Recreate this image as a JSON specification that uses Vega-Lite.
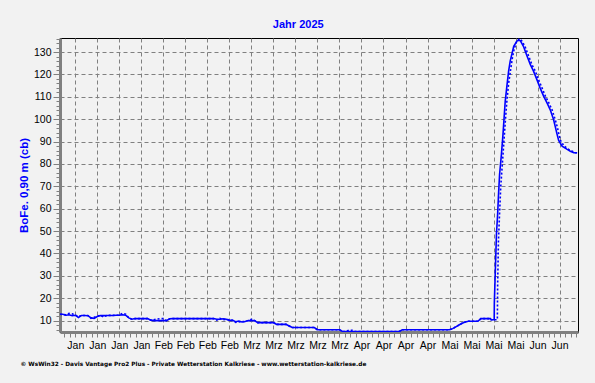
{
  "$schema": "https://vega.github.io/schema/vega-lite/v6.json",
  "width": 518,
  "height": 294,
  "autosize": "none",
  "padding": {"left": 60, "top": 38, "right": 17, "bottom": 51},
  "background": "#f2f2f2",
  "title": {
    "text": "Jahr 2025",
    "color": "#0000ff",
    "font": "Liberation Sans",
    "fontSize": 11,
    "fontWeight": "bold",
    "anchor": "middle",
    "frame": "bounds",
    "offset": 8
  },
  "datasets": {
    "solid": [
      {"t": "2024-12-31T04:00:00Z", "v": 12.8},
      {"t": "2025-01-01T00:00:00Z", "v": 12.8},
      {"t": "2025-01-02T00:00:00Z", "v": 12.4},
      {"t": "2025-01-03T00:00:00Z", "v": 12.6},
      {"t": "2025-01-04T00:00:00Z", "v": 12.2},
      {"t": "2025-01-05T00:00:00Z", "v": 12.4},
      {"t": "2025-01-06T00:00:00Z", "v": 11.4},
      {"t": "2025-01-07T00:00:00Z", "v": 12.3},
      {"t": "2025-01-08T00:00:00Z", "v": 12.3},
      {"t": "2025-01-09T00:00:00Z", "v": 12.2},
      {"t": "2025-01-10T00:00:00Z", "v": 11.2},
      {"t": "2025-01-11T00:00:00Z", "v": 11.0},
      {"t": "2025-01-12T00:00:00Z", "v": 11.8},
      {"t": "2025-01-13T00:00:00Z", "v": 12.3},
      {"t": "2025-01-14T00:00:00Z", "v": 12.2},
      {"t": "2025-01-15T00:00:00Z", "v": 12.3},
      {"t": "2025-01-17T00:00:00Z", "v": 12.3},
      {"t": "2025-01-18T00:00:00Z", "v": 12.4},
      {"t": "2025-01-19T00:00:00Z", "v": 12.4},
      {"t": "2025-01-20T00:00:00Z", "v": 12.6},
      {"t": "2025-01-21T00:00:00Z", "v": 12.4},
      {"t": "2025-01-22T00:00:00Z", "v": 11.2},
      {"t": "2025-01-23T00:00:00Z", "v": 10.6},
      {"t": "2025-01-24T00:00:00Z", "v": 10.9},
      {"t": "2025-01-28T00:00:00Z", "v": 10.9},
      {"t": "2025-01-29T00:00:00Z", "v": 10.2},
      {"t": "2025-01-30T00:00:00Z", "v": 10.0},
      {"t": "2025-02-03T00:00:00Z", "v": 10.0},
      {"t": "2025-02-04T00:00:00Z", "v": 10.8},
      {"t": "2025-02-05T00:00:00Z", "v": 10.9},
      {"t": "2025-02-18T00:00:00Z", "v": 10.9},
      {"t": "2025-02-19T00:00:00Z", "v": 10.6},
      {"t": "2025-02-20T00:00:00Z", "v": 10.6},
      {"t": "2025-02-21T00:00:00Z", "v": 10.8},
      {"t": "2025-02-22T00:00:00Z", "v": 10.6},
      {"t": "2025-02-23T00:00:00Z", "v": 10.1},
      {"t": "2025-02-24T00:00:00Z", "v": 10.1},
      {"t": "2025-02-25T00:00:00Z", "v": 9.5},
      {"t": "2025-02-26T00:00:00Z", "v": 9.8},
      {"t": "2025-02-27T00:00:00Z", "v": 9.4},
      {"t": "2025-02-28T00:00:00Z", "v": 9.6},
      {"t": "2025-03-01T00:00:00Z", "v": 10.0},
      {"t": "2025-03-03T00:00:00Z", "v": 10.0},
      {"t": "2025-03-04T00:00:00Z", "v": 9.1},
      {"t": "2025-03-09T00:00:00Z", "v": 9.1},
      {"t": "2025-03-10T00:00:00Z", "v": 8.3},
      {"t": "2025-03-13T00:00:00Z", "v": 8.3},
      {"t": "2025-03-14T00:00:00Z", "v": 7.6},
      {"t": "2025-03-15T00:00:00Z", "v": 6.9},
      {"t": "2025-03-22T00:00:00Z", "v": 6.9},
      {"t": "2025-03-23T00:00:00Z", "v": 5.9},
      {"t": "2025-03-30T00:00:00Z", "v": 5.9},
      {"t": "2025-03-31T00:00:00Z", "v": 5.15},
      {"t": "2025-04-18T00:00:00Z", "v": 5.15},
      {"t": "2025-04-19T00:00:00Z", "v": 5.9},
      {"t": "2025-05-04T00:00:00Z", "v": 5.9},
      {"t": "2025-05-05T00:00:00Z", "v": 6.4},
      {"t": "2025-05-06T00:00:00Z", "v": 7.2},
      {"t": "2025-05-07T00:00:00Z", "v": 8.0},
      {"t": "2025-05-08T00:00:00Z", "v": 8.8},
      {"t": "2025-05-09T00:00:00Z", "v": 9.4},
      {"t": "2025-05-10T00:00:00Z", "v": 9.7},
      {"t": "2025-05-13T00:00:00Z", "v": 9.7},
      {"t": "2025-05-14T00:00:00Z", "v": 10.9},
      {"t": "2025-05-17T00:00:00Z", "v": 10.9},
      {"t": "2025-05-17T06:00:00Z", "v": 10.4},
      {"t": "2025-05-18T05:00:00Z", "v": 10.4},
      {"t": "2025-05-18T06:00:00Z", "v": 18},
      {"t": "2025-05-18T14:00:00Z", "v": 33},
      {"t": "2025-05-18T22:00:00Z", "v": 48.5},
      {"t": "2025-05-19T07:00:00Z", "v": 57.4},
      {"t": "2025-05-19T14:00:00Z", "v": 66.4},
      {"t": "2025-05-19T22:00:00Z", "v": 75.3},
      {"t": "2025-05-20T12:00:00Z", "v": 84.3},
      {"t": "2025-05-21T00:00:00Z", "v": 93.2},
      {"t": "2025-05-21T10:00:00Z", "v": 102},
      {"t": "2025-05-21T17:00:00Z", "v": 108},
      {"t": "2025-05-22T07:00:00Z", "v": 115.5},
      {"t": "2025-05-22T19:00:00Z", "v": 121.5},
      {"t": "2025-05-23T07:00:00Z", "v": 126},
      {"t": "2025-05-23T22:00:00Z", "v": 129.6},
      {"t": "2025-05-24T10:00:00Z", "v": 132.6},
      {"t": "2025-05-25T10:00:00Z", "v": 134.9},
      {"t": "2025-05-26T00:00:00Z", "v": 135.3},
      {"t": "2025-05-26T12:00:00Z", "v": 135.1},
      {"t": "2025-05-27T12:00:00Z", "v": 132.6},
      {"t": "2025-05-28T14:00:00Z", "v": 128.5},
      {"t": "2025-05-29T17:00:00Z", "v": 124.4},
      {"t": "2025-05-30T17:00:00Z", "v": 121.5},
      {"t": "2025-05-31T19:00:00Z", "v": 117.7},
      {"t": "2025-06-01T19:00:00Z", "v": 114},
      {"t": "2025-06-02T22:00:00Z", "v": 110.3},
      {"t": "2025-06-04T00:00:00Z", "v": 107.3},
      {"t": "2025-06-05T00:00:00Z", "v": 104.3},
      {"t": "2025-06-06T02:00:00Z", "v": 99.9},
      {"t": "2025-06-06T14:00:00Z", "v": 96.9},
      {"t": "2025-06-07T05:00:00Z", "v": 93.2},
      {"t": "2025-06-07T17:00:00Z", "v": 90.5},
      {"t": "2025-06-08T19:00:00Z", "v": 88},
      {"t": "2025-06-10T10:00:00Z", "v": 86.5},
      {"t": "2025-06-11T10:00:00Z", "v": 85.7},
      {"t": "2025-06-12T12:00:00Z", "v": 85},
      {"t": "2025-06-13T14:00:00Z", "v": 85}
    ],
    "dotted": [
      {"t": "2024-12-31T04:00:00Z", "v": 12.8},
      {"t": "2025-01-02T00:00:00Z", "v": 12.6},
      {"t": "2025-01-03T00:00:00Z", "v": 13.2},
      {"t": "2025-01-04T00:00:00Z", "v": 13.0},
      {"t": "2025-01-05T00:00:00Z", "v": 12.4},
      {"t": "2025-01-06T00:00:00Z", "v": 11.8},
      {"t": "2025-01-07T00:00:00Z", "v": 12.3},
      {"t": "2025-01-09T00:00:00Z", "v": 12.3},
      {"t": "2025-01-10T00:00:00Z", "v": 11.0},
      {"t": "2025-01-11T00:00:00Z", "v": 11.5},
      {"t": "2025-01-12T00:00:00Z", "v": 12.0},
      {"t": "2025-01-13T00:00:00Z", "v": 12.3},
      {"t": "2025-01-14T00:00:00Z", "v": 11.6},
      {"t": "2025-01-15T00:00:00Z", "v": 12.3},
      {"t": "2025-01-19T00:00:00Z", "v": 12.4},
      {"t": "2025-01-20T00:00:00Z", "v": 13.2},
      {"t": "2025-01-21T00:00:00Z", "v": 12.9},
      {"t": "2025-01-22T00:00:00Z", "v": 11.2},
      {"t": "2025-01-23T00:00:00Z", "v": 10.6},
      {"t": "2025-01-24T00:00:00Z", "v": 10.9},
      {"t": "2025-01-28T00:00:00Z", "v": 10.9},
      {"t": "2025-01-29T00:00:00Z", "v": 10.2},
      {"t": "2025-02-01T00:00:00Z", "v": 10.9},
      {"t": "2025-02-02T00:00:00Z", "v": 10.9},
      {"t": "2025-02-03T00:00:00Z", "v": 10.0},
      {"t": "2025-02-04T00:00:00Z", "v": 10.8},
      {"t": "2025-02-05T00:00:00Z", "v": 10.9},
      {"t": "2025-02-18T00:00:00Z", "v": 10.9},
      {"t": "2025-02-19T00:00:00Z", "v": 10.2},
      {"t": "2025-02-20T00:00:00Z", "v": 11.0},
      {"t": "2025-02-21T00:00:00Z", "v": 10.4},
      {"t": "2025-02-22T00:00:00Z", "v": 10.6},
      {"t": "2025-02-24T00:00:00Z", "v": 10.1},
      {"t": "2025-02-25T00:00:00Z", "v": 9.2},
      {"t": "2025-02-26T00:00:00Z", "v": 9.4},
      {"t": "2025-02-28T00:00:00Z", "v": 9.6},
      {"t": "2025-03-01T00:00:00Z", "v": 10.0},
      {"t": "2025-03-02T00:00:00Z", "v": 10.6},
      {"t": "2025-03-03T00:00:00Z", "v": 10.0},
      {"t": "2025-03-04T00:00:00Z", "v": 9.1},
      {"t": "2025-03-09T00:00:00Z", "v": 9.1},
      {"t": "2025-03-10T00:00:00Z", "v": 8.3},
      {"t": "2025-03-13T00:00:00Z", "v": 8.3},
      {"t": "2025-03-14T00:00:00Z", "v": 7.6},
      {"t": "2025-03-15T00:00:00Z", "v": 6.9},
      {"t": "2025-03-22T00:00:00Z", "v": 6.9},
      {"t": "2025-03-23T00:00:00Z", "v": 5.9},
      {"t": "2025-03-30T00:00:00Z", "v": 5.9},
      {"t": "2025-03-31T00:00:00Z", "v": 5.15},
      {"t": "2025-04-01T00:00:00Z", "v": 5.15},
      {"t": "2025-04-02T00:00:00Z", "v": 5.7},
      {"t": "2025-04-03T00:00:00Z", "v": 5.7},
      {"t": "2025-04-04T00:00:00Z", "v": 5.15},
      {"t": "2025-04-18T00:00:00Z", "v": 5.15},
      {"t": "2025-04-19T00:00:00Z", "v": 5.9},
      {"t": "2025-05-04T00:00:00Z", "v": 5.9},
      {"t": "2025-05-05T00:00:00Z", "v": 6.4},
      {"t": "2025-05-06T00:00:00Z", "v": 7.2},
      {"t": "2025-05-07T00:00:00Z", "v": 8.0},
      {"t": "2025-05-08T00:00:00Z", "v": 8.8},
      {"t": "2025-05-09T00:00:00Z", "v": 9.4},
      {"t": "2025-05-10T00:00:00Z", "v": 9.7},
      {"t": "2025-05-13T00:00:00Z", "v": 9.7},
      {"t": "2025-05-14T00:00:00Z", "v": 10.9},
      {"t": "2025-05-17T00:00:00Z", "v": 10.9},
      {"t": "2025-05-17T06:00:00Z", "v": 10.4},
      {"t": "2025-05-19T05:00:00Z", "v": 10.4},
      {"t": "2025-05-19T07:00:00Z", "v": 25},
      {"t": "2025-05-19T13:00:00Z", "v": 45},
      {"t": "2025-05-19T22:00:00Z", "v": 58},
      {"t": "2025-05-20T07:00:00Z", "v": 70},
      {"t": "2025-05-20T19:00:00Z", "v": 80},
      {"t": "2025-05-21T07:00:00Z", "v": 90},
      {"t": "2025-05-21T19:00:00Z", "v": 100},
      {"t": "2025-05-22T07:00:00Z", "v": 109},
      {"t": "2025-05-22T19:00:00Z", "v": 116},
      {"t": "2025-05-23T10:00:00Z", "v": 122},
      {"t": "2025-05-24T00:00:00Z", "v": 127.5},
      {"t": "2025-05-24T14:00:00Z", "v": 131.5},
      {"t": "2025-05-25T07:00:00Z", "v": 134.5},
      {"t": "2025-05-26T05:00:00Z", "v": 136},
      {"t": "2025-05-27T00:00:00Z", "v": 135},
      {"t": "2025-05-28T00:00:00Z", "v": 132.5},
      {"t": "2025-05-29T02:00:00Z", "v": 128.5},
      {"t": "2025-05-30T05:00:00Z", "v": 124.4},
      {"t": "2025-05-31T07:00:00Z", "v": 121.5},
      {"t": "2025-06-01T07:00:00Z", "v": 117.7},
      {"t": "2025-06-02T10:00:00Z", "v": 114},
      {"t": "2025-06-03T12:00:00Z", "v": 110.3},
      {"t": "2025-06-04T14:00:00Z", "v": 107.3},
      {"t": "2025-06-05T14:00:00Z", "v": 104.3},
      {"t": "2025-06-06T14:00:00Z", "v": 99.9},
      {"t": "2025-06-07T05:00:00Z", "v": 96.9},
      {"t": "2025-06-07T19:00:00Z", "v": 93.2},
      {"t": "2025-06-08T07:00:00Z", "v": 90.5},
      {"t": "2025-06-09T10:00:00Z", "v": 88},
      {"t": "2025-06-10T22:00:00Z", "v": 86.5},
      {"t": "2025-06-12T00:00:00Z", "v": 85.7},
      {"t": "2025-06-13T00:00:00Z", "v": 85},
      {"t": "2025-06-13T19:00:00Z", "v": 85}
    ]
  },
  "layer": [
    {
      "data": {"name": "solid"},
      "mark": {"type": "line", "color": "#0000ff", "strokeWidth": 1.6, "clip": true},
      "encoding": {
        "x": {
          "field": "t",
          "type": "temporal",
          "scale": {"type": "utc", "domain": [1735614600000, 1749846600000], "nice": false},
          "axis": {
            "orient": "bottom",
            "values": [1736035200000, 1736640000000, 1737244800000, 1737849600000, 1738454400000, 1739059200000, 1739664000000, 1740268800000, 1740873600000, 1741478400000, 1742083200000, 1742688000000, 1743292800000, 1743897600000, 1744502400000, 1745107200000, 1745712000000, 1746316800000, 1746921600000, 1747526400000, 1748131200000, 1748736000000, 1749340800000],
            "labelExpr": "['Jan','Feb','Mrz','Apr','Mai','Jun'][utcmonth(datum.value)]",
            "labelFont": "Liberation Sans",
            "labelFontSize": 10.5,
            "labelColor": "#000000",
            "labelPadding": 8,
            "labelOverlap": false,
            "labelFlush": false,
            "ticks": false,
            "domain": true,
            "domainColor": "#808080",
            "domainWidth": 3,
            "grid": true,
            "gridColor": "#808080",
            "gridDash": [4, 3],
            "gridWidth": 1,
            "gridOpacity": 1,
            "title": "© WsWin32  -  Davis Vantage Pro2 Plus  -  Private Wetterstation Kalkriese - www.wetterstation-kalkriese.de",
            "titleFont": "DejaVu Sans",
            "titleFontSize": 5.8,
            "titleFontWeight": "bold",
            "titleColor": "#000000",
            "titleAnchor": "start",
            "titleAlign": "left",
            "titleBaseline": "middle",
            "titleX": -40,
            "titleY": 31
          }
        },
        "y": {
          "field": "v",
          "type": "quantitative",
          "scale": {"domain": [4.9, 136.3], "nice": false, "zero": false},
          "axis": {
            "orient": "left",
            "values": [10, 20, 30, 40, 50, 60, 70, 80, 90, 100, 110, 120, 130],
            "labelFont": "Liberation Sans",
            "labelFontSize": 10.5,
            "labelColor": "#000000",
            "labelPadding": 2,
            "ticks": true,
            "tickSize": 7,
            "tickColor": "#808080",
            "tickWidth": 1,
            "domain": true,
            "domainColor": "#808080",
            "domainWidth": 3,
            "grid": true,
            "gridColor": "#808080",
            "gridDash": [4, 3],
            "gridWidth": 1,
            "gridOpacity": 1,
            "title": "BoFe. 0,90 m (cb)",
            "titleFont": "Liberation Sans",
            "titleFontSize": 11.5,
            "titleFontWeight": "bold",
            "titleColor": "#0000ff",
            "titlePadding": 4
          }
        }
      }
    },
    {
      "data": {"name": "dotted"},
      "mark": {"type": "line", "color": "#0000ff", "strokeWidth": 1.6, "strokeDash": [2, 2], "clip": true},
      "encoding": {
        "x": {
          "field": "t",
          "type": "temporal",
          "axis": {
            "orient": "bottom",
            "values": [1735732800000, 1735884000000, 1736035200000, 1736186400000, 1736337600000, 1736488800000, 1736640000000, 1736791200000, 1736942400000, 1737093600000, 1737244800000, 1737396000000, 1737547200000, 1737698400000, 1737849600000, 1738000800000, 1738152000000, 1738303200000, 1738454400000, 1738605600000, 1738756800000, 1738908000000, 1739059200000, 1739210400000, 1739361600000, 1739512800000, 1739664000000, 1739815200000, 1739966400000, 1740117600000, 1740268800000, 1740420000000, 1740571200000, 1740722400000, 1740873600000, 1741024800000, 1741176000000, 1741327200000, 1741478400000, 1741629600000, 1741780800000, 1741932000000, 1742083200000, 1742234400000, 1742385600000, 1742536800000, 1742688000000, 1742839200000, 1742990400000, 1743141600000, 1743292800000, 1743444000000, 1743595200000, 1743746400000, 1743897600000, 1744048800000, 1744200000000, 1744351200000, 1744502400000, 1744653600000, 1744804800000, 1744956000000, 1745107200000, 1745258400000, 1745409600000, 1745560800000, 1745712000000, 1745863200000, 1746014400000, 1746165600000, 1746316800000, 1746468000000, 1746619200000, 1746770400000, 1746921600000, 1747072800000, 1747224000000, 1747375200000, 1747526400000, 1747677600000, 1747828800000, 1747980000000, 1748131200000, 1748282400000, 1748433600000, 1748584800000, 1748736000000, 1748887200000, 1749038400000, 1749189600000, 1749340800000, 1749492000000, 1749643200000, 1749794400000],
            "labels": false,
            "domain": false,
            "grid": false,
            "ticks": true,
            "tickSize": 5,
            "tickColor": "#808080",
            "tickWidth": 1,
            "title": null
          }
        },
        "y": {
          "field": "v",
          "type": "quantitative",
          "axis": {
            "orient": "left",
            "values": [6, 8, 12, 14, 16, 18, 22, 24, 26, 28, 32, 34, 36, 38, 42, 44, 46, 48, 52, 54, 56, 58, 62, 64, 66, 68, 72, 74, 76, 78, 82, 84, 86, 88, 92, 94, 96, 98, 102, 104, 106, 108, 112, 114, 116, 118, 122, 124, 126, 128, 132, 134, 136],
            "labels": false,
            "domain": false,
            "grid": false,
            "ticks": true,
            "tickSize": 4,
            "tickColor": "#808080",
            "tickWidth": 1,
            "title": null
          }
        }
      }
    }
  ],
  "resolve": {"axis": {"x": "independent", "y": "independent"}},
  "config": {
    "view": {"stroke": "#000000", "strokeWidth": 1}
  }
}
